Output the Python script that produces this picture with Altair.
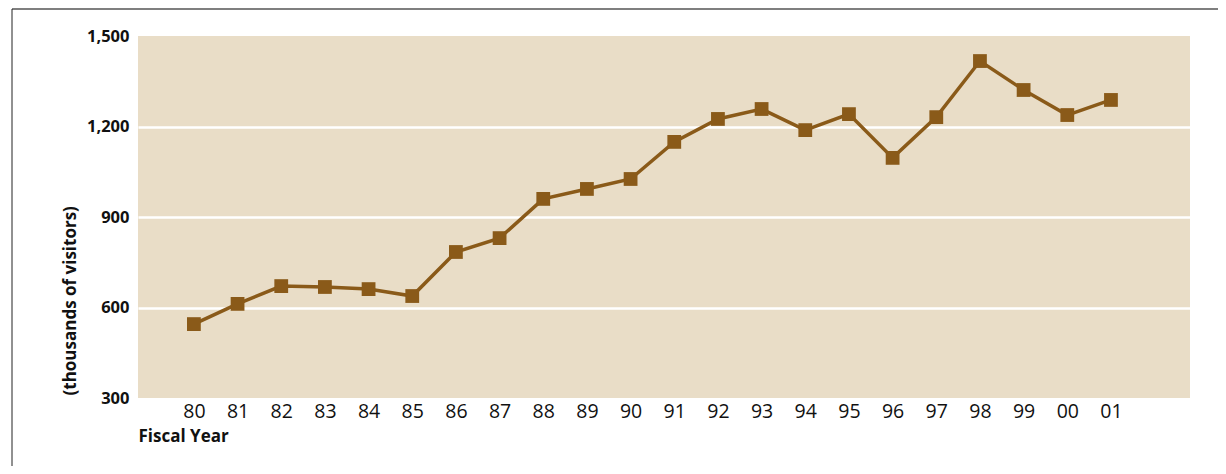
import altair as alt
import pandas as pd

years = [1980, 1981, 1982, 1983, 1984, 1985, 1986, 1987, 1988, 1989, 1990,
         1991, 1992, 1993, 1994, 1995, 1996, 1997, 1998, 1999, 2000, 2001]
year_labels = ["80", "81", "82", "83", "84", "85", "86", "87", "88", "89", "90",
               "91", "92", "93", "94", "95", "96", "97", "98", "99", "00", "01"]
visitors = [545, 612, 671, 668, 661, 638, 784, 830, 960, 993, 1026,
            1149, 1225, 1258, 1188, 1241, 1096, 1231, 1417, 1321, 1238, 1288]
y_ticks = [300, 600, 900, 1200, 1500]

df = pd.DataFrame({"year": years, "visitors": visitors})

FONT = "Open Sans"
BROWN = "#8A5A19"
TAN = "#E9DDC7"

label_expr = "[" + ",".join(f"'{l}'" for l in year_labels) + "][datum.value - %d]" % years[0]

x = alt.X(
    "year:Q",
    scale=alt.Scale(domain=[1978.72, 2002.81], nice=False, zero=False),
    axis=alt.Axis(
        values=years,
        labelExpr=label_expr,
        title="Fiscal Year",
        titleAnchor="start",
        titleAlign="left",
        titleX=0,
        titleY=30,
        titleBaseline="top",
        titleFont=FONT,
        titleFontSize=17,
        titleFontWeight="bold",
        titleColor="#111111",
        labelFont=FONT,
        labelFontSize=19.5,
        labelFontWeight="normal",
        labelColor="#111111",
        labelPadding=4,
        domain=False,
        ticks=False,
        grid=False,
        labelFlush=False,
        labelOverlap=False,
    ),
)

y = alt.Y(
    "visitors:Q",
    scale=alt.Scale(domain=[300, 1500], nice=False, zero=False),
    axis=alt.Axis(
        values=y_ticks,
        format=",d",
        title="(thousands of visitors)",
        titleAngle=270,
        titleAlign="left",
        titleBaseline="middle",
        titleX=-68,
        titleY=359,
        titleFont=FONT,
        titleFontSize=17,
        titleFontWeight="bold",
        titleColor="#111111",
        labelFont=FONT,
        labelFontSize=16.5,
        labelFontWeight="bold",
        labelColor="#111111",
        labelPadding=9,
        domain=False,
        ticks=False,
        grid=True,
        gridColor="white",
        gridWidth=2.5,
        gridOpacity={"condition": {"test": "datum.value == 300 || datum.value == 1500", "value": 0}, "value": 1},
        labelFlush=False,
    ),
)

base = alt.Chart(df)
line = base.mark_line(color=BROWN, strokeWidth=3.5).encode(x=x, y=y)
points = base.mark_point(shape="square", filled=True, size=190, color=BROWN, opacity=1).encode(x=x, y=y)

one = alt.Chart(pd.DataFrame({"a": [0]}))
frame_top = one.mark_rule(color="#555555", strokeWidth=1.5, clip=False).encode(
    x=alt.value(-126), x2=alt.value(1100), y=alt.value(-27)
)
frame_left = one.mark_rule(color="#222222", strokeWidth=1, clip=False).encode(
    x=alt.value(-126), y=alt.value(-27), y2=alt.value(440)
)

chart = alt.layer(frame_top, frame_left, line, points).properties(
    width=1052,
    height=362,
    background="white",
    padding={"left": 130, "top": 28, "right": 28, "bottom": 68},
    autosize=alt.AutoSizeParams(type="none"),
).configure_view(fill=TAN, stroke=None)

chart.save("out.html", embed_options={"renderer": "svg", "actions": False})
